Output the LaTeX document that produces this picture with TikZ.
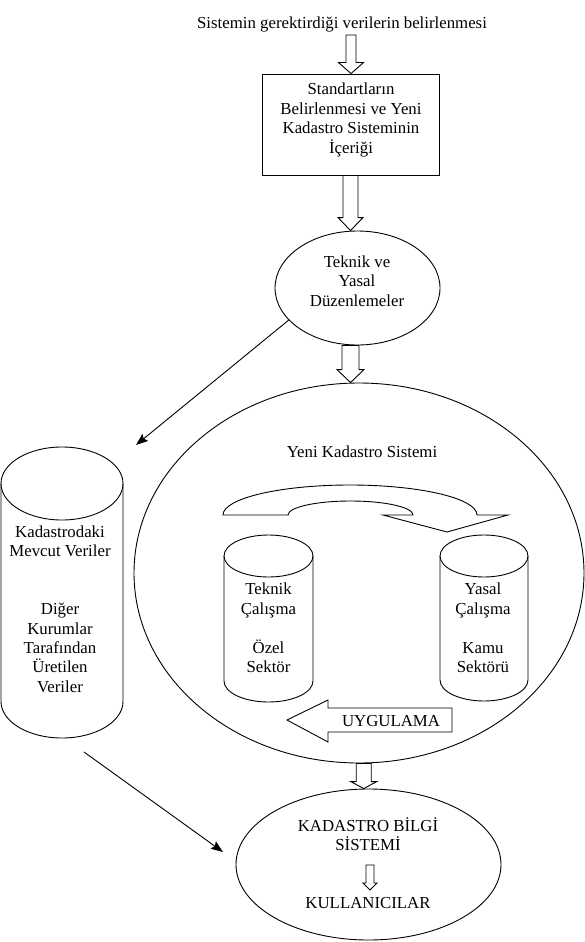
\documentclass[tikz,border=0pt]{standalone}
\usepackage{fontspec}
\setmainfont{LiberationSerif-Regular.ttf}
\usetikzlibrary{shapes.geometric,calc,arrows.meta}
\tikzset{
  txt/.style={font=\fontsize{16.8}{19.4}\selectfont, align=center, inner sep=0pt},
  ln/.style={line width=0.9pt},
  blk/.style={draw, line width=0.9pt, fill=white, line join=miter},
  shp/.style={draw, line width=0.9pt, inner sep=0pt},
  conn/.style={line width=0.9pt, -{Stealth[length=12pt,width=9pt,inset=2pt]}}
}
% hollow downward block arrow: start, end, shaft half width, head half width, head length
\newcommand\blkarrow[5]{%
  \draw[blk] let \p1=#1, \p2=#2 in
  (\x1-#3pt,\y1) -- (\x1-#3pt,\y2+#5pt) -- (\x1-#4pt,\y2+#5pt) -- (\x1,\y2)
  -- (\x1+#4pt,\y2+#5pt) -- (\x1+#3pt,\y2+#5pt) -- (\x1+#3pt,\y1) -- cycle;}
% cylinder: cx, rx, top centre y, bottom centre y, ry
\newcommand\cyl[5]{%
  \draw[ln] (#1,#3) ellipse[x radius=#2, y radius=#5];
  \draw[ln] (#1-#2,#3) -- (#1-#2,#4) arc[start angle=180,end angle=0,x radius=#2,y radius=#5] -- (#1+#2,#3);}
\begin{document}
\begin{tikzpicture}[x=1pt,y=-1pt]
\useasboundingbox (0,0) rectangle (584,942);

% top label and box
\node[txt] (top) at (342,24) {Sistemin gerektirdiği verilerin belirlenmesi};
\node[shp, rectangle, minimum width=177pt, minimum height=101pt] (box) at (350.5,124.5) {};
\node[txt] (boxT) at (351,120) {Standartların\\Belirlenmesi ve Yeni\\Kadastro Sisteminin\\İçeriği};

% Teknik ve Yasal Düzenlemeler
\node[shp, ellipse, minimum width=165pt, minimum height=114pt] (tek) at (357.5,288) {};
\node[txt] (tekT) at (357,281) {Teknik ve\\Yasal\\Düzenlemeler};

% big ellipse
\node[shp, ellipse, minimum width=450pt, minimum height=380pt] (yks) at (359,573) {};
\node[txt] (yksT) at (362,452) {Yeni Kadastro Sistemi};

% KBS ellipse
\node[shp, ellipse, minimum width=265pt, minimum height=151pt] (kbs) at (368.5,864.5) {};
\node[txt] (kbsT) at (368,834) {KADASTRO BİLGİ\\SİSTEMİ};
\node[txt] (kul) at (368,903) {KULLANICILAR};

% hollow arrows
\coordinate (a1) at (351,35);
\blkarrow{(a1)}{(box.north)}{5}{12.5}{11}
\blkarrow{(box.south)}{(tek.north)}{7.5}{12.5}{13}
\blkarrow{(box.south |- tek.south)}{(yks.north)}{8.5}{13.5}{13}
\coordinate (m4) at ($(yks.south)!0.5!(kbs.north)$);
\blkarrow{(m4 |- yks.south)}{(kbs.north)}{7.5}{13}{7}
\coordinate (s1) at (370,865);
\coordinate (s2) at (370,890);
\blkarrow{(s1)}{(s2)}{4}{7}{7}

% left cylinder
\cyl{62}{61}{483.5}{701.5}{36.5}
\node[txt] (leftT) at (60,609) {Kadastrodaki\\Mevcut Veriler\\[38.8pt]Diğer\\Kurumlar\\Tarafından\\Üretilen\\Veriler};

% inner cylinders
\cyl{268.5}{44.5}{556}{681}{21}
\node[txt] (tekc) at (268.5,628) {Teknik\\Çalışma\\[19.4pt]Özel\\Sektör};
\cyl{484}{44}{556}{680}{21}
\node[txt] (yasc) at (483,628) {Yasal\\Çalışma\\[19.4pt]Kamu\\Sektörü};

% curved hollow arrow
\draw[blk] (223,515) arc[start angle=180,end angle=360,x radius=127,y radius=30]
  -- (508,515) -- (447,532) -- (383,515) -- (413,515)
  arc[start angle=0,end angle=-180,x radius=62.5,y radius=14] -- cycle;

% UYGULAMA arrow
\draw[blk] (287,720) -- (328,700) -- (328,708) -- (452,708) -- (452,732) -- (328,732) -- (328,742) -- cycle;
\node[txt] (uyg) at (391,721) {UYGULAMA};

% black connectors
\coordinate (c1) at (136,445);
\draw[conn] (tek.205) -- (c1);
\coordinate (c2) at (84,752);
\coordinate (c3) at (223,852);
\draw[conn] (c2) -- (c3);
\end{tikzpicture}
\end{document}
